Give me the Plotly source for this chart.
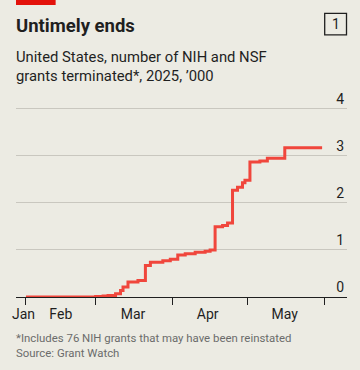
import plotly.graph_objects as go

# ---- data ----
dates = ["2025-02-01", "2025-03-01", "2025-03-04", "2025-03-06", "2025-03-09", "2025-03-11",
         "2025-03-12", "2025-03-14", "2025-03-18", "2025-03-21", "2025-03-23", "2025-03-28",
         "2025-03-31", "2025-04-03", "2025-04-06", "2025-04-10", "2025-04-14", "2025-04-16",
         "2025-04-18", "2025-04-21", "2025-04-23", "2025-04-25", "2025-04-27", "2025-04-29",
         "2025-04-30", "2025-05-02", "2025-05-06", "2025-05-09", "2025-05-16", "2025-05-31"]
grants_k = [0.0, 0.01, 0.02, 0.03, 0.07, 0.14,
            0.21, 0.32, 0.35, 0.67, 0.74, 0.77,
            0.80, 0.89, 0.92, 0.95, 0.97, 1.00,
            1.49, 1.52, 1.57, 2.27, 2.33, 2.43,
            2.48, 2.87, 2.89, 2.95, 3.17, 3.17]

month_label_pos = ["2025-01-31", "2025-02-15", "2025-03-16", "2025-04-15", "2025-05-16"]
month_labels = ["Jan", "Feb", "Mar", "Apr", "May"]
y_ticks = [0, 1, 2, 3, 4]
y_tick_text = ["0", "1", "2", "3", "4"]

title = "Untimely ends"
subtitle = ["United States, number of NIH and NSF", "grants terminated*, 2025, \u2019000"]
footnote = "*Includes 76 NIH grants that may have been reinstated"
source = "Source: Grant Watch"

BG = "#ecebe3"
RED = "#f0463c"
DARK = "#1f1f1f"
FONT = "Roboto"

W, H = 360, 370
ML, MR, MT, MB = 13, 13, 85, 73.3
PW = W - ML - MR
PH = H - MT - MB
UNIT = 47.0  # px per thousand


def px_x(px):
    return (px - ML) / PW


def px_y(py):
    return (H - MB - py) / PH


fig = go.Figure()
fig.add_trace(go.Scatter(
    x=dates, y=grants_k, mode="lines",
    line=dict(color=RED, width=3, shape="hv"),
    hoverinfo="skip", showlegend=False,
))

fig.update_layout(
    width=W, height=H,
    margin=dict(l=ML, r=MR, t=MT, b=MB, pad=0),
    paper_bgcolor=BG, plot_bgcolor=BG,
    font=dict(family=FONT, color=DARK, size=14),
    xaxis=dict(
        type="date", range=["2025-01-28", "2025-06-10"],
        tickvals=month_label_pos, ticktext=month_labels,
        ticks="", showgrid=False,
        showline=True, linecolor=DARK, linewidth=1.3,
        tickfont=dict(size=14, color=DARK, family=FONT),
        ticklabelstandoff=4,
        minor=dict(tickmode="linear", tick0="2025-02-01", dtick="M1",
                   ticks="outside", ticklen=7, tickcolor=DARK, tickwidth=1.3,
                   showgrid=False),
        fixedrange=True,
    ),
    yaxis=dict(
        range=[0, PH / UNIT], side="right",
        tickvals=y_ticks, ticktext=y_tick_text,
        ticklabelposition="inside", ticks="",
        ticklabelshift=-10,
        showgrid=True, gridcolor="#c9c7bf", gridwidth=1,
        zeroline=False, showline=False,
        tickfont=dict(size=14, color=DARK, family=FONT),
        fixedrange=True,
    ),
)

annots = [
    dict(text="<b>" + title + "</b>", x=px_x(14), y=px_y(26.5), size=18.5, color=DARK),
    dict(text=subtitle[0], x=px_x(14), y=px_y(57), size=14.8, color=DARK),
    dict(text=subtitle[1], x=px_x(14), y=px_y(76), size=14.8, color=DARK),
    dict(text=footnote, x=px_x(14), y=px_y(338), size=11.4, color="#6b6b6b"),
    dict(text=source, x=px_x(14), y=px_y(353), size=11.4, color="#6b6b6b"),
]
for a in annots:
    fig.add_annotation(text=a["text"], xref="paper", yref="paper", x=a["x"], y=a["y"],
                       xanchor="left", yanchor="middle", showarrow=False, xshift=-3,
                       font=dict(size=a["size"], color=a["color"], family=FONT))

# box with "1"
fig.add_shape(type="rect", xref="paper", yref="paper",
              x0=px_x(324.5), x1=px_x(346.5), y0=px_y(35), y1=px_y(13.5),
              line=dict(color=DARK, width=1.3), fillcolor="rgba(0,0,0,0)")
fig.add_annotation(text="1", xref="paper", yref="paper", x=px_x(335.5), y=px_y(24.5),
                   xanchor="center", yanchor="middle", showarrow=False,
                   font=dict(size=14, color=DARK, family=FONT))
# red tag
fig.add_shape(type="rect", xref="paper", yref="paper",
              x0=px_x(13), x1=px_x(53), y0=px_y(5), y1=px_y(0),
              line=dict(width=0), fillcolor="#e3120b")

fig.write_html("out.html", config={"displayModeBar": False},
               post_script="document.body.style.margin='0';document.body.style.overflow='hidden';")
